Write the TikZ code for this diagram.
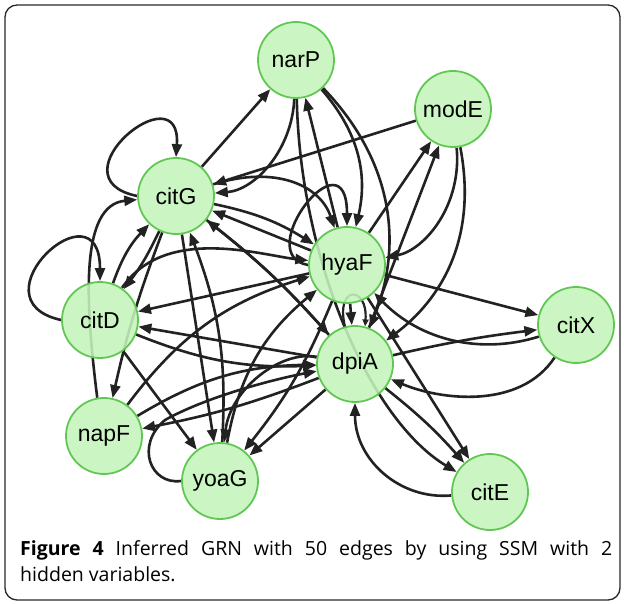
\documentclass[tikz,border=0pt]{standalone}
\usepackage{fontspec}
\setmainfont{Open Sans}
\newfontfamily\labelfont{Liberation Sans}
\usetikzlibrary{arrows.meta}
\definecolor{nodefill}{RGB}{196,245,188}
\definecolor{nodeline}{RGB}{96,200,82}
\definecolor{edgecol}{RGB}{34,34,34}
\definecolor{framecol}{RGB}{40,40,40}
\pgfdeclarelayer{bg}
\pgfsetlayers{bg,main}
\begin{document}
\begin{tikzpicture}[x=1pt,y=1pt,
  gnode/.style={circle,draw=nodeline,line width=1.8pt,fill=nodefill,fill opacity=0.88,text opacity=1,
    minimum size=76pt,inner sep=0pt,font=\labelfont\fontsize{23}{23}\selectfont},
  edge/.style={draw=edgecol,line width=2.6pt,-{Triangle[length=13pt,width=10pt]}},
  smalledge/.style={draw=edgecol,line width=2.2pt,-{Triangle[length=7pt,width=6pt]}},
  capfont/.style={font=\fontsize{19.5}{22}\selectfont}
]
\useasboundingbox (0,0) rectangle (624,-604);
\draw[framecol, line width=1.3pt, rounded corners=12pt] (5,-5) rectangle (620,-600);

\node[gnode] (narP) at (296,-60) {narP};
\node[gnode] (modE) at (453,-109) {modE};
\node[gnode] (citG) at (176,-196) {citG};
\node[gnode] (hyaF) at (347,-265) {hyaF};
\node[gnode] (citD) at (100,-320) {citD};
\node[gnode] (citX) at (576,-325) {citX};
\node[gnode] (dpiA) at (355,-364) {dpiA};
\node[gnode] (napF) at (104,-436) {napF};
\node[gnode] (yoaG) at (220,-481) {yoaG};
\node[gnode] (citE) at (490,-492) {citE};

\begin{pgfonlayer}{bg}
% top region
\draw[edge] (citG.west) .. controls (50,-178) and (182,-70) .. (citG.north);
\draw[edge] (citG) -- (narP);
\draw[edge] (narP) .. controls (292,-150) and (255,-190) .. (citG);
\draw[edge] (modE) -- (citG);
\draw[edge] (hyaF) -- (narP);
\draw[edge] (narP) to[bend left=27] (hyaF);
\draw[edge] (narP) to[bend left=33] (dpiA);
\draw[edge] (narP) .. controls (300,-260) and (370,-420) .. (citE);
\draw[edge] (hyaF) -- (modE);
\draw[edge] (dpiA) -- (modE);
\draw[edge] (modE) .. controls (462,-205) and (425,-250) .. (hyaF);
\draw[edge] (modE) .. controls (478,-240) and (440,-300) .. (dpiA);
\draw[edge] (hyaF.west) .. controls (250,-255) and (347,-130) .. (hyaF.north);
\draw[edge] (citG) .. controls (275,-165) and (320,-185) .. (hyaF);
\draw[edge] (citG) to[bend left=10] (hyaF);
\draw[edge] (hyaF) -- (citG);
\draw[edge] (dpiA) to[bend right=5] (citG);
% left region
\draw[edge] (citD.west) .. controls (-30,-300) and (100,-180) .. (citD.north);
\draw[edge] (napF.100) .. controls (85,-300) and (80,-205) .. (citG);
\draw[edge] (citD) to[bend left=12] (citG);
\draw[edge] (citG) to[bend left=6] (citD);
\draw[edge] (citG) to[bend right=4] (napF);
\draw[edge] (citG) -- (yoaG);
\draw[edge] (citG) to[bend left=5] (dpiA);
\draw[edge] (citD) -- (yoaG);
\draw[edge] (citD) .. controls (165,-225) and (260,-255) .. (hyaF);
\draw[edge] (citD) to[bend right=12] (dpiA);
\draw[edge] (hyaF) -- (citD);
\draw[edge] (dpiA) -- (citD);
\draw[edge] (napF) to[bend left=18] (hyaF);
\draw[edge] (napF) to[bend left=15] (dpiA);
\draw[edge] (yoaG) to[bend right=12] (citG);
\draw[edge] (yoaG) to[bend left=20] (hyaF);
\draw[edge] (hyaF) to[bend left=8] (yoaG);
\draw[edge] (dpiA) -- (yoaG);
\draw[edge] (dpiA) .. controls (280,-350) and (230,-390) .. (yoaG);
\draw[edge] (dpiA) to[bend left=5] (napF);
\draw[edge] (yoaG.west) .. controls (150,-485) and (135,-445) .. (165,-420) .. controls (210,-395) and (280,-378) .. (dpiA);
% centre and right region
\draw[edge] (hyaF) -- (dpiA);
\draw[smalledge] (dpiA.105) .. controls (335,-285) and (368,-285) .. (dpiA.75);
\draw[edge] (hyaF) -- (citX);
\draw[edge] (dpiA) to[bend left=3] (citX);
\draw[edge] (citX) .. controls (480,-355) and (420,-340) .. (hyaF);
\draw[edge] (citX) .. controls (520,-410) and (440,-400) .. (dpiA);
\draw[edge] (hyaF) -- (citE);
\draw[edge] (dpiA) to[bend left=5] (citE);
\draw[edge] (citE) .. controls (400,-500) and (355,-460) .. (dpiA);
\end{pgfonlayer}

\node[capfont, anchor=base west, inner sep=0pt] (cap1) at (20,-555)
  {\makebox[592pt][s]{\textbf{Figure 4} Inferred GRN with 50 edges by using SSM with 2}};
\node[capfont, anchor=base west, inner sep=0pt] (cap2) at (20,-581) {hidden variables.};
\end{tikzpicture}
\end{document}
